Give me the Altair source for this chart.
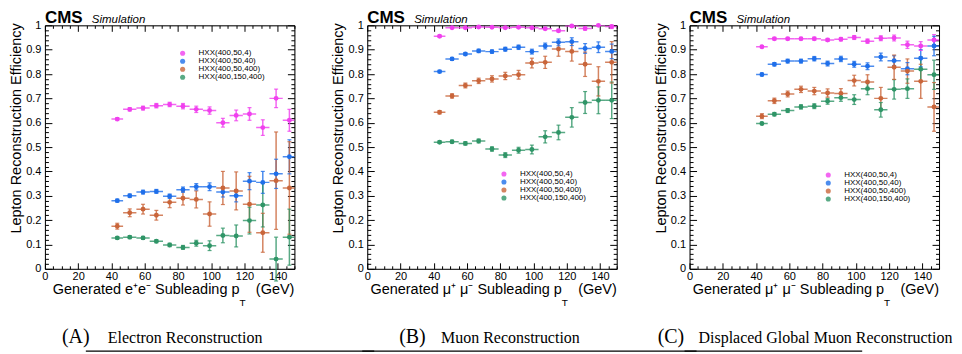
import altair as alt
import pandas as pd

# ---------------- data ----------------
edges = [40, 47, 55, 63, 71, 79, 87, 95, 103, 111, 119, 127, 135, 143, 151]
series = ["HXX(400,50,4)", "HXX(400,50,40)", "HXX(400,50,400)", "HXX(400,150,400)"]
colors = ["#f040ee", "#1f6fea", "#c9653a", "#2f9567"]

# Panel A: electrons
a_mag = [0.615, 0.655, 0.66, 0.67, 0.675, 0.668, 0.655, 0.65, 0.60, 0.63, 0.636, 0.58, 0.70, 0.61]
a_mag_e = [0.006, 0.007, 0.008, 0.009, 0.009, 0.011, 0.013, 0.015, 0.018, 0.022, 0.026, 0.032, 0.038, 0.045]
a_blu = [0.28, 0.30, 0.315, 0.318, 0.298, 0.325, 0.337, 0.337, 0.315, 0.30, 0.36, 0.355, 0.39, 0.46]
a_blu_e = [0.006, 0.007, 0.008, 0.008, 0.009, 0.011, 0.013, 0.016, 0.02, 0.025, 0.035, 0.045, 0.06, 0.07]
a_ora = [0.175, 0.23, 0.245, 0.22, 0.273, 0.29, 0.285, 0.225, 0.332, 0.32, 0.265, 0.148, 0.362, 0.332]
a_ora_e = [0.012, 0.016, 0.02, 0.02, 0.022, 0.028, 0.035, 0.05, 0.068, 0.078, 0.115, 0.08, 0.2, 0.19]
a_grn = [0.127, 0.13, 0.127, 0.113, 0.098, 0.088, 0.105, 0.095, 0.137, 0.135, 0.198, 0.262, 0.04, 0.13]
a_grn_e = [0.005, 0.006, 0.006, 0.006, 0.007, 0.008, 0.012, 0.02, 0.03, 0.045, 0.055, 0.09, 0.09, 0.115]

# Panel B: muons
b_mag = [0.955, 0.99, 0.99, 0.993, 0.992, 0.99, 0.992, 0.99, 0.986, 0.978, 0.997, 0.987, 1.0, 0.995]
b_mag_e = [0.004, 0.003, 0.003, 0.003, 0.003, 0.003, 0.003, 0.003, 0.004, 0.005, 0.005, 0.007, 0.004, 0.008]
b_blu = [0.81, 0.862, 0.882, 0.895, 0.892, 0.902, 0.91, 0.892, 0.915, 0.93, 0.933, 0.905, 0.91, 0.893]
b_blu_e = [0.005, 0.006, 0.006, 0.007, 0.007, 0.008, 0.009, 0.01, 0.012, 0.014, 0.016, 0.02, 0.022, 0.03]
b_ora = [0.643, 0.71, 0.753, 0.772, 0.78, 0.792, 0.797, 0.845, 0.848, 0.903, 0.893, 0.84, 0.77, 0.848]
b_ora_e = [0.007, 0.009, 0.01, 0.011, 0.013, 0.015, 0.018, 0.02, 0.025, 0.03, 0.04, 0.05, 0.06, 0.085]
b_grn = [0.52, 0.522, 0.515, 0.525, 0.492, 0.467, 0.487, 0.49, 0.542, 0.56, 0.622, 0.683, 0.692, 0.692]
b_grn_e = [0.005, 0.006, 0.007, 0.008, 0.009, 0.01, 0.012, 0.018, 0.025, 0.03, 0.04, 0.045, 0.055, 0.075]

# Panel C: displaced global muons
c_mag = [0.912, 0.945, 0.945, 0.945, 0.945, 0.94, 0.943, 0.95, 0.935, 0.947, 0.948, 0.92, 0.915, 0.94]
c_mag_e = [0.005, 0.005, 0.005, 0.005, 0.006, 0.006, 0.007, 0.008, 0.009, 0.01, 0.012, 0.015, 0.018, 0.022]
c_blu = [0.798, 0.84, 0.853, 0.853, 0.863, 0.843, 0.862, 0.84, 0.832, 0.87, 0.855, 0.822, 0.865, 0.915]
c_blu_e = [0.006, 0.007, 0.008, 0.008, 0.009, 0.01, 0.011, 0.012, 0.014, 0.016, 0.02, 0.025, 0.035, 0.04]
c_ora = [0.627, 0.69, 0.718, 0.737, 0.73, 0.722, 0.72, 0.773, 0.767, 0.70, 0.828, 0.812, 0.77, 0.665]
c_ora_e = [0.01, 0.011, 0.012, 0.013, 0.015, 0.017, 0.02, 0.022, 0.03, 0.045, 0.05, 0.05, 0.07, 0.1]
c_grn = [0.597, 0.635, 0.65, 0.665, 0.668, 0.688, 0.703, 0.695, 0.74, 0.653, 0.737, 0.74, 0.82, 0.797]
c_grn_e = [0.005, 0.007, 0.008, 0.009, 0.01, 0.012, 0.015, 0.02, 0.025, 0.03, 0.04, 0.04, 0.05, 0.06]

x_major = [0, 20, 40, 60, 80, 100, 120, 140]
x_minor = [v for v in range(0, 151, 5) if v % 20]
y_major = [round(i * 0.1, 1) for i in range(11)]
y_minor = [round(i * 0.02, 2) for i in range(51) if i % 5]

W, H = 250, 244
SANS = "Liberation Sans"
SERIF = "Liberation Serif"


def make_df(vals, errs):
    rows = []
    for s, ys, es in zip(series, vals, errs):
        for i, (v, e) in enumerate(zip(ys, es)):
            lo, hi = edges[i], edges[i + 1]
            rows.append(dict(series=s, lo=lo, hi=hi, xc=(lo + hi) / 2, eff=v,
                             elo=v - e, ehi=min(v + e, 1.0)))
    return pd.DataFrame(rows)


xs = alt.Scale(domain=[0, 150], nice=False, zero=False)
yscale = alt.Scale(domain=[0, 1], nice=False, zero=False)
cscale = alt.Scale(domain=series, range=colors)


def tick_axis(orient, values, size, offset, domain=False):
    return alt.Axis(orient=orient, values=values, tickSize=size, offset=offset,
                    labels=False, domain=domain, domainColor="black", domainWidth=1,
                    grid=False, title=None, ticks=True, tickColor="black",
                    tickWidth=1, minExtent=0, maxExtent=0)


def panel(df, xtitle, legx, legy, cap_letter, cap_text, cap_x1, cap_x2, line_x1, line_x2):
    main_x = alt.Axis(orient="bottom", values=x_major, ticks=False, tickSize=0,
                      labelPadding=2, domain=True, domainColor="black", domainWidth=1,
                      labelFontSize=11, labelFont=SANS, labelColor="black",
                      grid=False, title=None, minExtent=0, labelFlush=False)
    main_y = alt.Axis(orient="left", values=y_major, ticks=False, tickSize=0,
                      labelPadding=4, domain=True, domainColor="black", domainWidth=1,
                      labelFontSize=11, labelFont=SANS, labelColor="black",
                      format="~g", grid=False, title=None, minExtent=0, labelFlush=False)
    leg = alt.Legend(orient="none", legendX=legx, legendY=legy, title=None,
                     labelFontSize=8, labelFont=SANS, labelColor="black",
                     symbolType="circle", symbolSize=26, symbolStrokeWidth=0,
                     rowPadding=0, labelOffset=12, padding=0)
    col = alt.Color("series:N", scale=cscale, legend=leg)
    base = alt.Chart(df)
    xe = base.mark_rule(strokeWidth=1.5, opacity=0.8, clip=True).encode(
        x=alt.X("lo:Q", scale=xs, axis=main_x), x2="hi:Q",
        y=alt.Y("eff:Q", scale=yscale, axis=main_y), color=col)
    ye = base.mark_rule(strokeWidth=1.5, opacity=0.8).encode(
        x=alt.X("xc:Q", scale=xs, axis=None),
        y=alt.Y("elo:Q", scale=yscale, axis=None), y2="ehi:Q", color=col)
    cap_hi = base.mark_tick(orient="horizontal", size=4, thickness=1.2, opacity=0.8).encode(
        x=alt.X("xc:Q", scale=xs, axis=None),
        y=alt.Y("ehi:Q", scale=yscale, axis=None), color=col)
    cap_lo = base.mark_tick(orient="horizontal", size=4, thickness=1.2, opacity=0.8).encode(
        x=alt.X("xc:Q", scale=xs, axis=None),
        y=alt.Y("elo:Q", scale=yscale, axis=None), color=col)
    pts = base.mark_circle(size=24, opacity=1).encode(
        x=alt.X("xc:Q", scale=xs, axis=None),
        y=alt.Y("eff:Q", scale=yscale, axis=None), color=col)
    inv = base.mark_point(opacity=0)
    t1 = inv.encode(x=alt.X("xc:Q", scale=xs, axis=tick_axis("top", x_major, 6, -H)),
                    y=alt.Y("eff:Q", scale=yscale, axis=tick_axis("right", y_major, 7, -W)))
    t2 = inv.encode(x=alt.X("xc:Q", scale=xs, axis=tick_axis("top", x_minor, 3, -H)),
                    y=alt.Y("eff:Q", scale=yscale, axis=tick_axis("right", y_minor, 3.5, -W)))
    t3 = inv.encode(x=alt.X("xc:Q", scale=xs, axis=tick_axis("bottom", x_major, 6, -H, True)),
                    y=alt.Y("eff:Q", scale=yscale, axis=tick_axis("left", y_major, 7, -W, True)))
    t4 = inv.encode(x=alt.X("xc:Q", scale=xs, axis=tick_axis("bottom", x_minor, 3, -H)),
                    y=alt.Y("eff:Q", scale=yscale, axis=tick_axis("left", y_minor, 3.5, -W)))

    one = alt.Chart(pd.DataFrame({"k": [0]}))

    def txt(text, x, y, size, align="left", baseline="alphabetic", font=SANS,
            weight="normal", style="normal", angle=0):
        return one.mark_text(text=text, fontSize=size, font=font, fontWeight=weight,
                             fontStyle=style, align=align, baseline=baseline,
                             angle=angle, color="black").encode(
            x=alt.value(x), y=alt.value(y))

    texts = [
        txt("CMS", 0, -2, 17, weight="bold"),
        txt("Simulation", 47, -2, 11.5, style="italic"),
        txt("Lepton Reconstruction Efficiency", -28, -2, 14.5, align="right",
            baseline="middle", angle=270),
        txt(xtitle, 195, H + 21, 14.5, align="right", baseline="middle"),
        txt("T", 198, H + 34, 10, align="center", baseline="middle"),
        txt("(GeV)", W, H + 21, 14.5, align="right", baseline="middle"),
        txt(cap_letter, cap_x1, 318, 20, font=SERIF),
        txt(cap_text, cap_x2, 318, 16, font=SERIF),
    ]
    line = one.mark_rule(color="black", strokeWidth=1.2).encode(
        x=alt.value(line_x1), x2=alt.value(line_x2), y=alt.value(326.5))

    return alt.layer(xe, ye, cap_hi, cap_lo, pts, t1, t2, t3, t4, *texts, line).resolve_axis(
        x="independent", y="independent").properties(width=W, height=H)


pA = panel(make_df([a_mag, a_blu, a_ora, a_grn], [a_mag_e, a_blu_e, a_ora_e, a_grn_e]),
           "Generated e\u207ae\u207b Subleading p", 134, 24,
           "(A)", "Electron Reconstruction", 17, 63, 41, W + 80)
pB = panel(make_df([b_mag, b_blu, b_ora, b_grn], [b_mag_e, b_blu_e, b_ora_e, b_grn_e]),
           "Generated \u03bc\u207a \u03bc\u207b Subleading p", 133, 145,
           "(B)", "Muon Reconstruction", 32, 74, -5, W + 80)
pC = panel(make_df([c_mag, c_blu, c_ora, c_grn], [c_mag_e, c_blu_e, c_ora_e, c_grn_e]),
           "Generated \u03bc\u207a \u03bc\u207b Subleading p", 135, 146,
           "(C)", "Displaced Global Muon Reconstruction", -32, 9, -5, 173)

chart = alt.hconcat(pA, pB, pC, spacing=73, bounds="flush").resolve_legend(
    color="independent").properties(padding=0).configure_view(
    stroke=None).configure(background="white")

chart.save("out.html", embed_options={"renderer": "svg", "actions": False})
